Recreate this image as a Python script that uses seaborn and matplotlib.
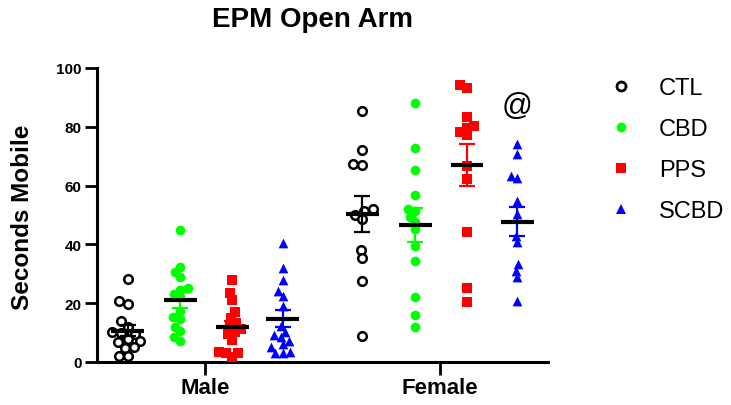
import numpy as np
import pandas as pd
import matplotlib
matplotlib.use("Agg")
import matplotlib.pyplot as plt
import seaborn as sns
from matplotlib.lines import Line2D
from matplotlib.collections import PathCollection

# ---------------- data ----------------
sexes = ["Male", "Female"]
groups = ["CTL", "CBD", "PPS", "SCBD"]
colors = ["black", "#00FF00", "#FF0000", "#0000FF"]
markers = ["o", "o", "s", "^"]

male_ctl = [28.2, 20.6, 19.7, 14.0, 12.0, 10.2, 9.8, 9.5, 7.8, 7.2, 6.8, 5.2, 4.8, 2.2, 2.0]
male_cbd = [45.0, 32.4, 30.5, 29.0, 25.1, 24.6, 23.1, 22.2, 17.2, 15.2, 14.6, 12.0, 10.4, 8.6, 7.3]
male_pps = [27.9, 23.5, 21.2, 16.9, 14.9, 13.3, 12.1, 11.2, 10.3, 9.5, 7.6, 3.3, 3.1, 3.1, 1.6]
male_scbd = [40.5, 31.9, 28.0, 24.3, 22.6, 19.1, 12.1, 10.3, 9.2, 8.4, 7.3, 6.1, 5.0, 3.3, 3.1, 3.1]

female_ctl = [85.3, 72.2, 67.3, 67.0, 52.0, 51.5, 50.1, 48.6, 38.2, 35.3, 27.7, 8.7]
female_cbd = [88.0, 72.7, 65.3, 56.9, 52.0, 51.5, 49.4, 47.7, 45.2, 39.4, 34.5, 22.2, 16.0, 11.8]
female_pps = [94.2, 93.2, 83.4, 80.4, 79.6, 78.1, 77.2, 66.8, 62.2, 44.3, 25.2, 20.3]
female_scbd = [74.1, 70.7, 63.4, 62.5, 54.9, 50.3, 43.0, 40.7, 33.3, 31.1, 28.8, 20.6]

title = "EPM Open Arm"
ylabel = "Seconds Mobile"
annotation = "@"
annotation_y = 87
yticks = [0, 20, 40, 60, 80, 100]

data = {
    "Male": [male_ctl, male_cbd, male_pps, male_scbd],
    "Female": [female_ctl, female_cbd, female_pps, female_scbd],
}

# ---------------- build table ----------------
offsets = [-0.33, -0.105, 0.115, 0.33]
rows = []
for si, sex in enumerate(sexes):
    for gi, g in enumerate(groups):
        for v in data[sex][gi]:
            rows.append({"sex": sex, "group": g, "pos": si + offsets[gi], "value": v})
df = pd.DataFrame(rows)

sns.set_theme(style="ticks")
plt.rcParams["font.family"] = ["Liberation Sans", "DejaVu Sans"]
plt.rcParams["text.color"] = "black"
plt.rcParams["axes.labelcolor"] = "black"
plt.rcParams["xtick.color"] = "black"
plt.rcParams["ytick.color"] = "black"

fig = plt.figure(figsize=(7.31, 4.06), dpi=100)
ax = fig.add_axes([97 / 731, 1 - 363 / 406, (548 - 97) / 731, (363 - 69) / 406])

ax.set_xlim(-0.46, 1.46)
ax.set_ylim(0, 100)

final_sizes = {}
for gi, g in enumerate(groups):
    sub = df[df["group"] == g]
    n_before = len(ax.collections)
    if g == "CTL":
        sns.swarmplot(data=sub, x="pos", y="value", native_scale=True, ax=ax,
                      color="white", edgecolor="black", linewidth=1.8,
                      size=4.4, marker="o", zorder=3)
        final = 6.2
    else:
        sns.swarmplot(data=sub, x="pos", y="value", native_scale=True, ax=ax,
                      color=colors[gi], linewidth=0, size=5.0,
                      marker=markers[gi], zorder=3)
        final = 7.0
    for c in ax.collections[n_before:]:
        final_sizes[c] = final

ax.set_xlim(-0.46, 1.46)
ax.set_ylim(0, 100)

# let seaborn lay out the swarms with compact spacing, then enlarge the markers
fig.canvas.draw()
for c, final in final_sizes.items():
    c.draw = (lambda renderer, _c=c: PathCollection.draw(_c, renderer))
    c.set_sizes([final ** 2])
    c.set_clip_on(False)

# mean +/- SEM
for si, sex in enumerate(sexes):
    for gi, g in enumerate(groups):
        vals = np.asarray(data[sex][gi])
        m = vals.mean()
        se = vals.std(ddof=1) / np.sqrt(len(vals))
        p = si + offsets[gi]
        ax.errorbar(p, m, yerr=se, color=colors[gi], capsize=6, elinewidth=1.6,
                    capthick=1.6, fmt="none", zorder=4)
        ax.hlines(m, p - 0.07, p + 0.07, color="black", lw=3, zorder=5)

# annotation above female SCBD
ax.text(1 + offsets[3], annotation_y, annotation, ha="center", va="center",
        fontsize=22, color="black")

ax.set_xlim(-0.46, 1.46)
ax.set_ylim(0, 100)
ax.set_xticks([0, 1])
ax.set_xticklabels(sexes, fontsize=16, fontweight="bold")
ax.set_yticks(yticks)
ax.set_yticklabels([str(t) for t in yticks], fontsize=11, fontweight="bold")
ax.set_xlabel("")
ax.set_ylabel("")

fig.text(23 / 731, 1 - 217 / 406, ylabel, rotation=90, ha="center", va="center",
         fontsize=17.5, fontweight="bold")
fig.text(313 / 731, 1 - 20 / 406, title, ha="center", va="center",
         fontsize=20, fontweight="bold")

sns.despine(ax=ax)
for s in ["left", "bottom"]:
    ax.spines[s].set_linewidth(2.2)
    ax.spines[s].set_color("black")
ax.tick_params(axis="both", width=2, length=9, color="black", labelcolor="black", pad=2)

handles = []
for gi, g in enumerate(groups):
    if g == "CTL":
        h = Line2D([], [], linestyle="none", marker="o", markersize=6.5,
                   markerfacecolor="white", markeredgecolor="black", markeredgewidth=2)
    else:
        h = Line2D([], [], linestyle="none", marker=markers[gi], markersize=7,
                   markerfacecolor=colors[gi], markeredgewidth=0)
    handles.append(h)
fig.legend(handles, groups, loc="upper left", bbox_to_anchor=(588 / 731, 1 - 57 / 406),
           frameon=False, fontsize=17, handlelength=1.0, handletextpad=1.1,
           labelspacing=0.8)

fig.savefig("out.png", dpi=100)
